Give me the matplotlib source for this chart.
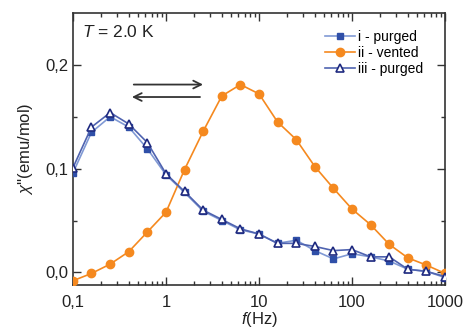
import matplotlib
matplotlib.use('Agg')
import matplotlib.pyplot as plt
from matplotlib.ticker import FixedLocator, LogLocator, NullFormatter, FuncFormatter

plt.rcParams['font.family'] = ['Liberation Sans', 'DejaVu Sans']
plt.rcParams['mathtext.fontset'] = 'custom'
plt.rcParams['mathtext.rm'] = 'Liberation Sans'
plt.rcParams['mathtext.it'] = 'Liberation Sans:italic'

# frequencies (Hz)
freq = [0.1, 0.158, 0.251, 0.398, 0.631, 1, 1.58, 2.51, 3.98, 6.31, 10,
        15.8, 25.1, 39.8, 63.1, 100, 158, 251, 398, 631, 1000]

# chi'' (emu/mol)
purged_i = [0.096, 0.135, 0.150, 0.140, 0.119, 0.094, 0.077, 0.059, 0.050, 0.041, 0.037,
            0.028, 0.031, 0.021, 0.013, 0.018, 0.015, 0.011, 0.003, 0.001, -0.005]
vented_ii = [-0.008, -0.001, 0.008, 0.020, 0.039, 0.058, 0.099, 0.136, 0.170, 0.181, 0.172,
             0.145, 0.128, 0.102, 0.081, 0.061, 0.046, 0.027, 0.014, 0.007, -0.001]
purged_iii = [0.101, 0.140, 0.154, 0.143, 0.125, 0.095, 0.078, 0.060, 0.051, 0.042, 0.037,
              0.028, 0.028, 0.025, 0.021, 0.022, 0.015, 0.015, 0.003, 0.001, -0.004]

fig = plt.figure(figsize=(4.68, 3.32), dpi=100)
ax = fig.add_axes([0.156, 0.142, 0.795, 0.819])

ax.plot(freq, purged_i, color='#8099d4', lw=1.2, marker='s', ms=5,
        mfc='#2f4fa8', mec='#2f4fa8', label='i - purged', zorder=3)
ax.plot(freq, vented_ii, color='#f5891f', lw=1.2, marker='o', ms=6,
        mfc='#f5891f', mec='#f5891f', label='ii - vented', zorder=3)
ax.plot(freq, purged_iii, color='#4f63b0', lw=1.2, marker='^', ms=6,
        mfc='white', mec='#1f2a80', mew=1.2, label='iii - purged', zorder=4)

ax.set_xscale('log')
ax.set_xlim(0.1, 1000)
ax.set_ylim(-0.012, 0.25)

ax.yaxis.set_major_locator(FixedLocator([0.0, 0.1, 0.2]))
ax.yaxis.set_minor_locator(FixedLocator([0.05, 0.15]))
ax.yaxis.set_major_formatter(FuncFormatter(lambda v, p: ('%.1f' % v).replace('.', ',')))
ax.xaxis.set_major_locator(FixedLocator([0.1, 1, 10, 100, 1000]))
ax.xaxis.set_minor_locator(LogLocator(base=10, subs=range(2, 10)))
ax.xaxis.set_minor_formatter(NullFormatter())
ax.xaxis.set_major_formatter(FuncFormatter(lambda v, p: '0,1' if v < 0.5 else '%d' % v))

ax.tick_params(which='both', direction='in', top=True, right=True, colors='#333333',
               labelsize=12, labelcolor='#222222')
ax.tick_params(which='major', length=6, width=1)
ax.tick_params(which='minor', length=3, width=1)
ax.tick_params(axis='x', pad=7)
for s in ax.spines.values():
    s.set_color('#333333')
    s.set_linewidth(1.2)

ax.set_xlabel('$f$(Hz)', fontsize=12, labelpad=0, color='#222222')
ax.set_ylabel("$\\chi$''(emu/mol)", fontsize=12, labelpad=7, color='#222222')

ax.text(0.024, 0.93, '$T$ = 2.0 K', transform=ax.transAxes, fontsize=12.5,
        va='center', ha='left', color='#222222')

ax.annotate('', xy=(2.5, 0.181), xytext=(0.45, 0.181),
            arrowprops=dict(arrowstyle='->', color='#333333', lw=1.3,
                            mutation_scale=14, shrinkA=0, shrinkB=0))
ax.annotate('', xy=(0.43, 0.169), xytext=(2.32, 0.169),
            arrowprops=dict(arrowstyle='->', color='#333333', lw=1.3,
                            mutation_scale=14, shrinkA=0, shrinkB=0))

ax.legend(loc='upper right', bbox_to_anchor=(0.975, 0.985), frameon=False, fontsize=10,
          handlelength=2.2, handletextpad=0.2, labelspacing=0.15)

fig.savefig('out.png', dpi=100)
